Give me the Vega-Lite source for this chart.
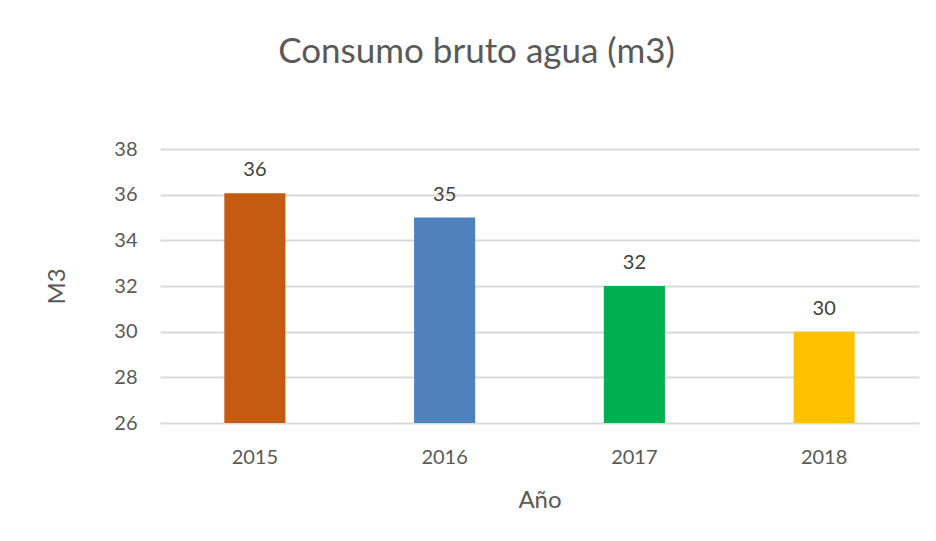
{
  "$schema": "https://vega.github.io/schema/vega-lite/v6.json",
  "width": 759,
  "height": 274,
  "autosize": "none",
  "padding": {"left": 160, "top": 149, "right": 17, "bottom": 118},
  "background": "white",
  "config": {
    "font": "Lato",
    "view": {"stroke": null},
    "axis": {"labelColor": "#595959", "titleColor": "#595959", "labelFont": "Lato", "titleFont": "Lato", "titleFontWeight": "normal"}
  },
  "title": {
    "text": "Consumo bruto agua (m3)",
    "fontSize": 35,
    "fontWeight": "normal",
    "color": "#595959",
    "font": "Lato",
    "anchor": "middle",
    "dx": -63,
    "offset": 69
  },
  "data": {
    "values": [
      {"year": "2015", "m3": 36.06},
      {"year": "2016", "m3": 35},
      {"year": "2017", "m3": 32},
      {"year": "2018", "m3": 30}
    ]
  },
  "encoding": {
    "x": {
      "field": "year",
      "type": "nominal",
      "title": "Año",
      "scale": {"paddingInner": 0.678, "paddingOuter": 0.339},
      "axis": {"labelAngle": 0, "ticks": false, "domain": false, "labelFontSize": 20, "labelPadding": 24, "titleFontSize": 24, "titlePadding": 21}
    },
    "y": {
      "field": "m3",
      "type": "quantitative",
      "title": "M3",
      "scale": {"domain": [26, 38], "zero": false, "nice": false},
      "axis": {"values": [26, 28, 30, 32, 34, 36, 38], "ticks": false, "domain": false, "gridColor": "#D9D9D9", "gridWidth": 2, "labelFontSize": 20, "labelPadding": 23, "titleFontSize": 24, "titlePadding": 44}
    }
  },
  "layer": [
    {
      "mark": {"type": "bar", "clip": true},
      "encoding": {
        "y2": {"datum": 26},
        "color": {
          "field": "year",
          "type": "nominal",
          "scale": {"domain": ["2015", "2016", "2017", "2018"], "range": ["#C55A11", "#4F81BD", "#00B050", "#FFC000"]},
          "legend": null
        }
      }
    },
    {
      "mark": {"type": "text", "fontSize": 20, "color": "#404040", "baseline": "alphabetic", "dy": -17, "font": "Lato"},
      "encoding": {
        "text": {"field": "m3", "type": "quantitative", "format": ".0f"}
      }
    }
  ]
}
